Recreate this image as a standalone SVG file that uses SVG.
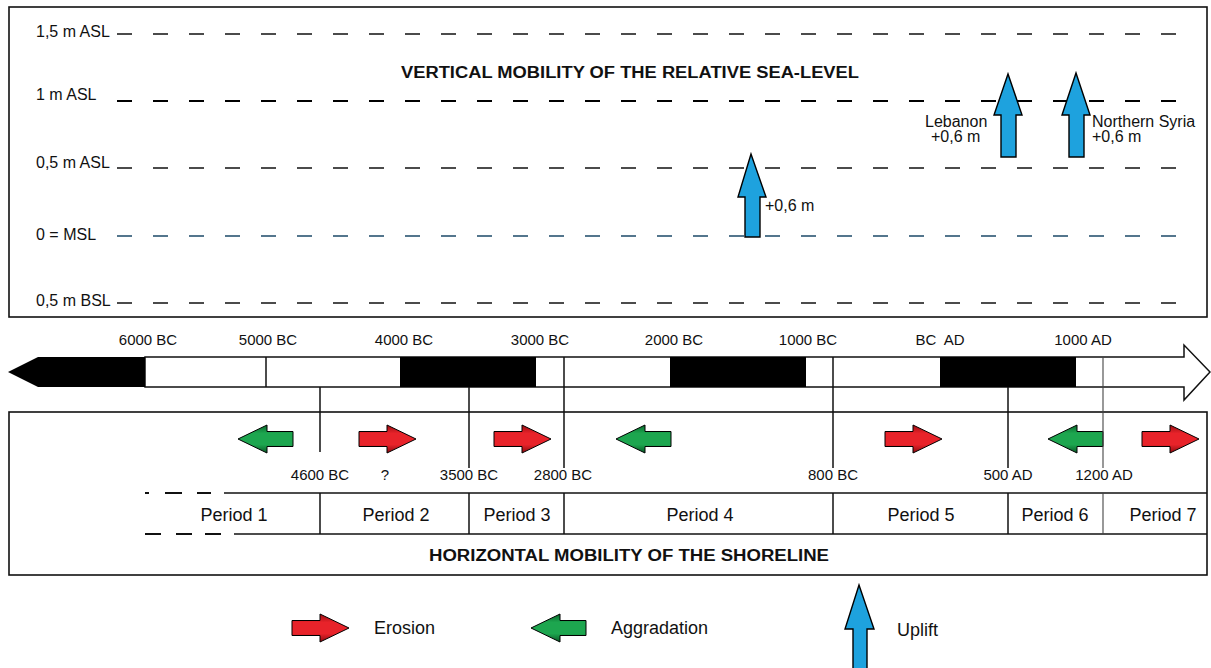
<svg xmlns="http://www.w3.org/2000/svg" width="1211" height="668" viewBox="0 0 1211 668">
<style>
text{font-family:"Liberation Sans",Arial,sans-serif;fill:#111}
.ax{font-size:16px}
.dt{font-size:15px;text-anchor:middle}
.pl{font-size:18px;text-anchor:middle}
.lg{font-size:18px}
.tt{font-size:16px;font-weight:bold;text-anchor:middle}
.nt{font-size:16px}
.frame{fill:none;stroke:#111;stroke-width:1.6}
.dash{fill:none;stroke:#111;stroke-width:1.3;stroke-dasharray:15 21}
.vl{stroke:#111;stroke-width:1.5}
.up{fill:#1ea2de;stroke:#000;stroke-width:1.4;stroke-linejoin:miter}
.er{fill:url(#gr);stroke:#000;stroke-width:1}
.ag{fill:url(#gg);stroke:#000;stroke-width:1}
</style>
<defs>
<linearGradient id="gr" x1="0" y1="0" x2="0" y2="1">
<stop offset="0" stop-color="#9a0d12"/><stop offset="0.3" stop-color="#e8232a"/><stop offset="0.7" stop-color="#e8232a"/><stop offset="1" stop-color="#8a0b10"/>
</linearGradient>
<linearGradient id="gg" x1="0" y1="0" x2="0" y2="1">
<stop offset="0" stop-color="#0b6a2d"/><stop offset="0.3" stop-color="#1da64f"/><stop offset="0.7" stop-color="#1da64f"/><stop offset="1" stop-color="#095826"/>
</linearGradient>
<path id="rArrow" d="M0,-7.5 H28 V-14 L57,0 L28,14 V7.5 H0 Z"/>
<path id="lArrow" d="M0,0 L29,-14 V-7.5 H55 V7.5 H29 V14 Z"/>
</defs>
<rect width="1211" height="668" fill="#fff"/>

<g id="vertical-panel">
<rect class="frame" x="9" y="7" width="1198" height="310"/>
<text class="tt" x="630" y="78" textLength="458" lengthAdjust="spacingAndGlyphs">VERTICAL MOBILITY OF THE RELATIVE SEA-LEVEL</text>
<g id="levels">
<text class="ax" x="36" y="37">1,5 m ASL</text>
<line class="dash" x1="117" y1="34" x2="1180" y2="34"/>
<text class="ax" x="36" y="100">1 m ASL</text>
<line class="dash" x1="117" y1="101" x2="1180" y2="101" style="stroke:#000;stroke-width:2"/>
<text class="ax" x="36" y="168">0,5 m ASL</text>
<line class="dash" x1="117" y1="168" x2="1180" y2="168"/>
<text class="ax" x="36" y="240">0 = MSL</text>
<line class="dash" x1="117" y1="236" x2="1180" y2="236" style="stroke:#1d4a68;stroke-width:1.6"/>
<text class="ax" x="36" y="306">0,5 m BSL</text>
<line class="dash" x1="117" y1="303" x2="1180" y2="303"/>
</g>
<g id="uplift-1">
<path class="up" d="M745,237 V197 H738 L751,154 L766,197 H760 V237 Z"/>
<text class="nt" x="765" y="211">+0,6 m</text>
</g>
<g id="uplift-lebanon">
<path class="up" d="M1001,157 V115 H994 L1008,74 L1022,115 H1016 V157 Z"/>
<text class="nt" x="925" y="127">Lebanon</text>
<text class="nt" x="931" y="142">+0,6 m</text>
</g>
<g id="uplift-syria">
<path class="up" d="M1069,157 V115 H1062 L1076,73 L1090,115 H1084 V157 Z"/>
<text class="nt" x="1092" y="127">Northern Syria</text>
<text class="nt" x="1092" y="142">+0,6 m</text>
</g>
</g>

<g id="timeline">
<path d="M145,357 H1184 V345 L1210,372 L1184,400 V387 H145 Z" fill="#fff" stroke="#111" stroke-width="1.5"/>
<polygon points="8,372 38,357 145,357 145,387 38,387" fill="#000"/>
<rect x="400" y="357" width="136" height="30" fill="#000"/>
<rect x="670" y="357" width="136" height="30" fill="#000"/>
<rect x="940" y="357" width="136" height="30" fill="#000"/>
<line class="vl" x1="266" y1="357" x2="266" y2="387"/>
<text class="dt" x="148" y="345">6000 BC</text>
<text class="dt" x="268" y="345">5000 BC</text>
<text class="dt" x="404" y="345">4000 BC</text>
<text class="dt" x="540" y="345">3000 BC</text>
<text class="dt" x="674" y="345">2000 BC</text>
<text class="dt" x="808" y="345">1000 BC</text>
<text class="dt" x="940" y="345" xml:space="preserve">BC  AD</text>
<text class="dt" x="1083" y="345">1000 AD</text>
</g>

<g id="horizontal-panel">
<rect class="frame" x="9" y="412" width="1198" height="163"/>
<text class="tt" x="629" y="561" textLength="400" lengthAdjust="spacingAndGlyphs">HORIZONTAL MOBILITY OF THE SHORELINE</text>
<g id="period-row">
<line class="vl" x1="224" y1="493" x2="1207" y2="493"/>
<line class="vl" x1="234" y1="534" x2="1207" y2="534"/>
<path d="M145,493 H149 M165,493 H182 M197,493 H211 M145,534 H161 M176,534 H192 M205,534 H221" stroke="#111" stroke-width="1.8" fill="none"/>
<line class="vl" x1="320" y1="493" x2="320" y2="534"/>
<line class="vl" x1="469" y1="493" x2="469" y2="534"/>
<line class="vl" x1="564" y1="493" x2="564" y2="534"/>
<line class="vl" x1="833" y1="493" x2="833" y2="534"/>
<line class="vl" x1="1008" y1="493" x2="1008" y2="534"/>
<line x1="1103" y1="493" x2="1103" y2="534" stroke="#444" stroke-width="1.1"/>
<text class="pl" x="234" y="521">Period 1</text>
<text class="pl" x="396" y="521">Period 2</text>
<text class="pl" x="517" y="521">Period 3</text>
<text class="pl" x="700" y="521">Period 4</text>
<text class="pl" x="921" y="521">Period 5</text>
<text class="pl" x="1055" y="521">Period 6</text>
<text class="pl" x="1163" y="521">Period 7</text>
</g>
<g id="dates">
<text class="dt" x="320" y="480">4600 BC</text>
<text class="dt" x="385" y="480">?</text>
<text class="dt" x="469" y="480">3500 BC</text>
<text class="dt" x="563" y="480">2800 BC</text>
<text class="dt" x="833" y="480">800 BC</text>
<text class="dt" x="1008" y="480">500 AD</text>
<text class="dt" x="1104" y="480">1200 AD</text>
</g>
<g id="shoreline-arrows">
<use href="#lArrow" class="ag" x="238" y="439"/>
<use href="#rArrow" class="er" x="359" y="439"/>
<use href="#rArrow" class="er" x="494" y="439"/>
<use href="#lArrow" class="ag" x="616" y="439"/>
<use href="#rArrow" class="er" x="885" y="439"/>
<use href="#lArrow" class="ag" x="1048" y="439"/>
<use href="#rArrow" class="er" x="1142" y="439"/>
</g>
</g>

<g id="connectors">
<line class="vl" x1="320" y1="387" x2="320" y2="452"/>
<line class="vl" x1="469" y1="387" x2="469" y2="468"/>
<line class="vl" x1="564" y1="357" x2="564" y2="468"/>
<line class="vl" x1="833" y1="357" x2="833" y2="468"/>
<line class="vl" x1="1008" y1="387" x2="1008" y2="468"/>
<line x1="1103" y1="357" x2="1103" y2="468" stroke="#444" stroke-width="1.1"/>
</g>

<g id="legend">
<g id="legend-erosion">
<use href="#rArrow" class="er" x="292" y="628"/>
<text class="lg" x="374" y="634">Erosion</text>
</g>
<g id="legend-aggradation">
<use href="#lArrow" class="ag" x="531" y="628"/>
<text class="lg" x="611" y="634">Aggradation</text>
</g>
<g id="legend-uplift">
<path class="up" d="M853,670 V629 H845 L859,585 L874,629 H867 V670 Z"/>
<text class="lg" x="897" y="636">Uplift</text>
</g>
</g>
</svg>
